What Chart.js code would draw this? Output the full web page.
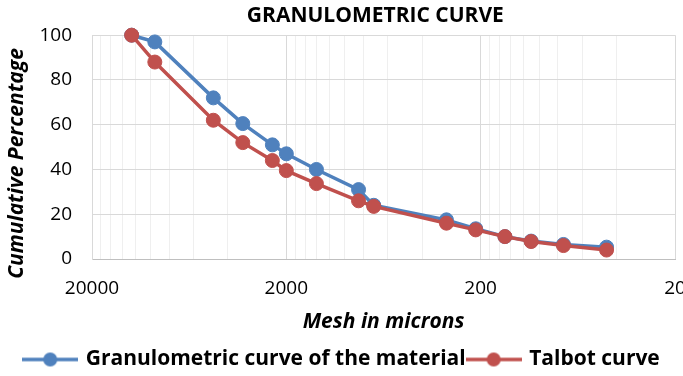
<!DOCTYPE html>
<html>
<head>
<meta charset="utf-8">
<script src="https://cdn.jsdelivr.net/npm/chart.js@4"></script>
<style>
  body { margin: 0; background: #fff; }
  #wrap { width: 683px; height: 376px; }
</style>
</head>
<body>
<div id="wrap"><canvas id="grafica" width="683" height="376"></canvas></div>
<script>
// sieve openings (microns)
let mallas = [12500, 9500, 4750, 3350, 2360, 2000, 1400, 850, 710, 300, 212, 150, 110, 75, 45];
let curvaMaterial = [100, 97, 72, 60.5, 51, 47, 40, 31, 24, 17.5, 13.5, 10, 8, 6.5, 5.3];
let curvaTalbot = [100, 88, 62, 52, 44, 39.5, 33.7, 26, 23.5, 16, 13, 10, 7.8, 6, 4];
let etiquetasX = [20000, 2000, 200, 20];

let azul = '#4F81BD';
let rojo = '#C0504D';
let fuente = "'Open Sans'";

// ticks of the log axis: 20..200 step 20, 200..2000 step 200, ...
let ticksX = [];
[20, 200, 2000].forEach(base => {
    for (let k = 1; k < 10; k++) ticksX.push(base * k);
});
ticksX.push(20000);

function puntos(valores) {
    return mallas.map((m, i) => ({ x: m, y: valores[i] }));
}

function marcaLeyenda(color) {
    let c = document.createElement('canvas');
    c.width = 56;
    c.height = 16;
    let g = c.getContext('2d');
    g.strokeStyle = color;
    g.lineWidth = 3.5;
    g.beginPath();
    g.moveTo(0, 8);
    g.lineTo(56, 8);
    g.stroke();
    g.fillStyle = color;
    g.beginPath();
    g.arc(28, 8, 7, 0, Math.PI * 2);
    g.fill();
    return c;
}

let marcas = [marcaLeyenda(azul), marcaLeyenda(rojo)];

var ctx = document.getElementById('grafica').getContext('2d');
var grafica = new Chart(ctx, {
    type: 'line',
    data: {
        datasets: [{
            label: 'Granulometric curve of the material',
            data: puntos(curvaMaterial),
            borderColor: azul,
            backgroundColor: azul,
            order: 1
        }, {
            label: 'Talbot curve',
            data: puntos(curvaTalbot),
            borderColor: rojo,
            backgroundColor: rojo,
            order: 0
        }]
    },
    options: {
        responsive: false,
        animation: false,
        layout: { padding: { left: 2, right: 0, top: 0, bottom: -4 } },
        datasets: {
            line: {
                borderWidth: 3.5,
                tension: 0,
                clip: false,
                pointStyle: 'circle',
                pointRadius: 7,
                pointHoverRadius: 7,
                pointBorderWidth: 1
            }
        },
        plugins: {
            tooltip: { enabled: false },
            title: {
                display: true,
                text: 'GRANULOMETRIC CURVE   ',
                fullSize: false,
                color: '#000',
                font: { family: fuente, size: 21, weight: 'bold' },
                padding: { top: 3, bottom: 7 }
            },
            legend: {
                position: 'bottom',
                labels: {
                    usePointStyle: true,
                    pointStyleWidth: 50,
                    padding: 3,
                    color: '#000',
                    font: { family: fuente, size: 21, weight: 'bold' },
                    generateLabels: function(chart) {
                        let items = Chart.defaults.plugins.legend.labels.generateLabels(chart);
                        items.forEach(it => { it.pointStyle = marcas[it.datasetIndex]; });
                        return items.sort((a, b) => a.datasetIndex - b.datasetIndex);
                    }
                }
            }
        },
        scales: {
            x: {
                type: 'logarithmic',
                reverse: true,
                min: 20,
                max: 20000,
                afterBuildTicks: function(scale) {
                    scale.ticks = ticksX.map(v => ({ value: v }));
                },
                afterFit: function(scale) {
                    scale.height = 87;
                },
                ticks: {
                    autoSkip: false,
                    maxRotation: 0,
                    padding: 18,
                    color: '#000',
                    font: { family: fuente, size: 19 },
                    callback: function(value) {
                        return etiquetasX.includes(value) ? String(value) : '';
                    }
                },
                grid: {
                    drawTicks: false,
                    color: function(c) {
                        if (!c.tick) return '#d9d9d9';
                        return etiquetasX.includes(c.tick.value) ? '#d9d9d9' : '#efefef';
                    }
                },
                border: { color: '#bfbfbf' },
                title: {
                    display: true,
                    text: 'Mesh in microns',
                    color: '#000',
                    font: { family: fuente, size: 21, weight: 'bold', style: 'italic' },
                    padding: { top: 4, bottom: 11 }
                }
            },
            y: {
                min: 0,
                max: 100,
                afterFit: function(scale) {
                    scale.width = 90;
                },
                ticks: {
                    stepSize: 20,
                    padding: 20,
                    color: '#000',
                    font: { family: fuente, size: 19 }
                },
                grid: {
                    drawTicks: false,
                    color: '#d9d9d9'
                },
                border: { color: '#d9d9d9' },
                title: {
                    display: true,
                    // trailing spaces push the label down like in the original
                    text: 'Cumulative Percentage      ',
                    color: '#000',
                    font: { family: fuente, size: 21, weight: 'bold', style: 'italic' },
                    padding: { top: 2, bottom: 2 }
                }
            }
        }
    }
});
</script>
</body>
</html>
